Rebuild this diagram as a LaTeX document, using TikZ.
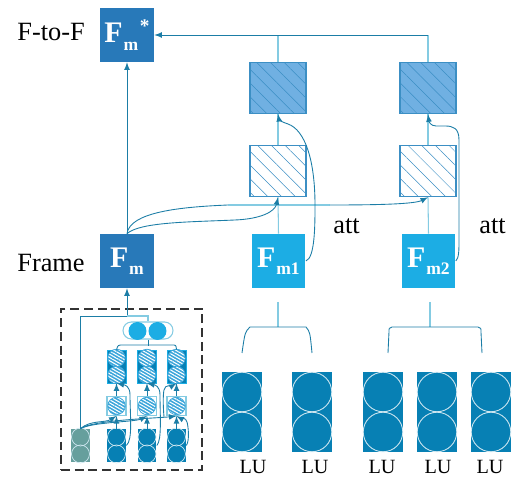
\documentclass[tikz,border=0pt]{standalone}
\usepackage{fontspec}
\setmainfont{Liberation Serif}
\usetikzlibrary{positioning,shapes,arrows,patterns.meta}

\definecolor{framedark}{HTML}{2879B9}
\definecolor{framelight}{HTML}{1CADE4}
\definecolor{hatchfill}{HTML}{70B0E2}
\definecolor{hatchline}{HTML}{3C8FC4}
\definecolor{lublue}{HTML}{0780B4}
\definecolor{tealbox}{HTML}{669F9D}
\definecolor{linkdark}{HTML}{1B7DA6}
\definecolor{linklight}{HTML}{84CBE2}
\definecolor{circlefill}{HTML}{3AA5DA}

\newcommand{\fname}[1]{{\fontsize{17}{17}\selectfont\bfseries F}\kern0.5pt\raisebox{-0.9ex}{\fontsize{10}{10}\selectfont\bfseries #1}}

\tikzset{
  framebox/.style={rectangle, inner sep=0, minimum width=1.08cm, minimum height=1.08cm, text=white},
  hatchbox/.style={rectangle, draw=hatchline, line width=0.6, inner sep=0, minimum width=1.12cm, minimum height=1.03cm,
    pattern={Lines[angle=-45,distance=5.5pt,line width=0.3pt]}, pattern color=hatchline},
  lubox/.style={rectangle, fill=lublue, inner sep=0, minimum width=0.8cm, minimum height=1.6cm},
  lucircle/.style={circle, draw=white!80!lublue, line width=0.5, inner sep=0, minimum size=0.79cm},
  smallbox/.style={rectangle, fill=lublue, inner sep=0, minimum width=0.38cm, minimum height=0.66cm},
  smallcircle/.style={circle, draw=white!80!lublue, line width=0.4, inner sep=0, minimum size=0.36cm},
  stripecircle/.style={circle, inner sep=0, minimum size=0.35cm, draw=circlefill, line width=0.4,
    preaction={fill=circlefill}, pattern={Lines[angle=-30,distance=1.6pt,line width=0.6pt]}, pattern color=white},
  link/.style={line width=0.5, color=linkdark},
  linkpale/.style={line width=0.6, color=linklight},
  lulabel/.style={inner sep=0, font=\fontsize{11.5}{12}\selectfont},
  sidelabel/.style={inner sep=0, font=\fontsize{15}{15}\selectfont}
}

\begin{document}
\begin{tikzpicture}[x=0.02cm, y=-0.02cm]
\useasboundingbox (0,0) rectangle (522,489);

% frame level
\node[framebox, fill=framedark] (fstar) at (127,35) {\fname{m}\kern1pt\raisebox{1.3ex}{\fontsize{11}{11}\selectfont\bfseries *}};
\node[framebox, fill=framedark] (fm) at (127,261) {\fname{m}};
\node[framebox, fill=framelight] (fmone) at (278.5,261) {\fname{m1}};
\node[framebox, fill=framelight] (fmtwo) at (428.5,261) {\fname{m2}};
\node[sidelabel, anchor=west] (ftof) at (17,32) {F-to-F};
\node[sidelabel, anchor=west] (frame) at (17,263) {Frame};
\node[sidelabel, anchor=west] (attone) at (333,226) {att};
\node[sidelabel, anchor=west] (atttwo) at (479,226) {att};

% hatched boxes
\node[hatchbox, preaction={fill=hatchfill}] (darkone) at (278,88) {};
\node[hatchbox, preaction={fill=hatchfill}] (darktwo) at (428,88) {};
\node[hatchbox] (paleone) at (278,171) {};
\node[hatchbox] (paletwo) at (428,171) {};

% LU blocks
\foreach \name/\x/\t in {lua/242/253,lub/312/315,luc/383/382,lud/437/438,lue/491/490}{
  \node[lubox] (\name) at (\x,412) {};
  \node[lucircle] (\name top) at (\x,392) {};
  \node[lucircle] (\name bot) at (\x,432) {};
  \node[lulabel] (\name text) at (\t,467) {LU};
}

% dashed frame
\node[rectangle, draw=black!80, line width=0.8, dash pattern=on 5pt off 2.8pt, inner sep=0,
  minimum width=2.82cm, minimum height=3.22cm] (inset) at (131.5,389.5) {};

% inset
\node[rectangle, rounded corners=4.8pt, draw=linklight, line width=0.6, inner sep=0,
  minimum width=1cm, minimum height=0.34cm] (pill) at (148,330.5) {};
\node[circle, fill=framelight, inner sep=0, minimum size=0.36cm] (pilla) at (137.5,331) {};
\node[circle, fill=framelight, inner sep=0, minimum size=0.36cm] (pillb) at (157.5,331) {};

\node[smallbox, fill=tealbox] (base) at (80.5,445.5) {};
\node[smallcircle] (basetop) at (80.5,437) {};
\node[smallcircle] (basebot) at (80.5,454) {};
\foreach \i/\x in {1/116.5,2/147,3/176.5}{
  \node[smallbox] (low\i) at (\x,445.5) {};
  \node[smallcircle] (low\i top) at (\x,437) {};
  \node[smallcircle] (low\i bot) at (\x,454) {};
  \node[rectangle, draw=linklight, line width=0.6, fill=white, inner sep=0, minimum size=0.38cm] (mid\i) at (\x,406) {};
  \node[stripecircle] (mid\i c) at (\x,406) {};
  \node[smallbox, draw=framelight, line width=0.4] (up\i) at (\x,366.5) {};
  \node[stripecircle] (up\i top) at (\x,358) {};
  \node[stripecircle] (up\i bot) at (\x,375) {};
  \draw[link, -latex] (low\i.north) -- (mid\i.south);
  \draw[link, -latex] (mid\i.north) -- (up\i.south);
}

% inset links
\coordinate (insetbus) at (127,316);
\draw[link, -latex] (insetbus) -- (fm.south);
\draw[link] (insetbus) -| (base.north);
\draw[linkpale] (insetbus) -| (pill.north);
\draw[link] (pill.south) -- ++(0,6);
\draw[link] (up1.north) .. controls (118,345) .. (123,345) -- (172,345) .. controls (176,345) .. (up3.north);
\draw[link, -latex] (base.north) .. controls (90,420) and (105,423) .. (mid1.south);
\draw[link, -latex] (base.north) .. controls (92,422) and (135,422) .. (mid2.south);
\draw[link, -latex] (base.north) .. controls (92,420) and (160,418) .. (mid3.south);
\draw[link, -latex] (low1.east) .. controls (133,440) and (130,415) .. (130,395) .. controls (130,386) and (125,385) .. (up1.south);
\draw[link, -latex] (low2.east) .. controls (162,440) and (160,415) .. (160,395) .. controls (160,386) and (155,385) .. (up2.south);
\draw[link, -latex] (low3.east) .. controls (190,440) and (188,425) .. (187,422) .. controls (186,417) and (180,418) .. (mid3.south);
\draw[link, -latex] (164,417) .. controls (163,405) and (163,395) .. (164,390) .. controls (165,384) and (172,386) .. (up3.south);

% main links
\draw[link, -latex] (fm.north) -- (fstar.south);
\draw[linkpale] (fmone.north) -- (paleone.south);
\draw[linkpale] (fmtwo.north) -- (paletwo.south);
\draw[linkpale] (paleone.north) -- (darkone.south);
\draw[linkpale] (paletwo.north) -- (darktwo.south);
\draw[linkpale] (darktwo.north) -- (darktwo.north |- fstar.east);
\draw[linkpale] (darkone.north) -- (darkone.north |- fstar.east);
\draw[link, -latex] (darktwo.north |- fstar.east) -- (fstar.east);

\coordinate (crossa) at (228,205);
\coordinate (crossb) at (330,205);
\draw[link] (fm.north) .. controls (130,212) and (180,207) .. (crossa);
\draw[linkpale] (crossa) -- (crossb);
\draw[link, -latex] (crossb) .. controls (380,205) and (415,204) .. (paletwo.south);
\draw[link, -latex] (fm.north) .. controls (140,222) and (190,222) .. (235,220) .. controls (260,219) and (275,212) .. (paleone.south);
\draw[link] (fmone.east) .. controls (315,258) and (315,225) .. (315,205);
\draw[link, -latex] (315,205) .. controls (315,160) and (305,130) .. (288,124) .. controls (282,122) and (279,120) .. (darkone.south);
\draw[link, -latex] (fmtwo.east) .. controls (459,258) and (459,250) .. (459,240) -- (459,140) .. controls (459,128) and (453,126) .. (445,126) -- (436,126) .. controls (431,126) and (429,122) .. (darktwo.south);

% LU braces
\coordinate (braceone) at (278,327);
\coordinate (braceonel) at (242,353);
\coordinate (braceoner) at (312,353);
\coordinate (bracetwo) at (430,327);
\coordinate (bracetwol) at (388,353);
\coordinate (bracetwor) at (482,353);
\draw[linkpale, line width=0.8] (braceone |- 0,302) -- (braceone);
\draw[linkpale, line width=0.8] (bracetwo |- 0,302) -- (bracetwo);
\draw[link] (braceonel) .. controls (245,332) .. (250,327) -- (306,327) .. controls (310,332) .. (braceoner);
\draw[link] (bracetwol) -- (389,332) .. controls (389,328) .. (392,327) -- (478,327) .. controls (481,328) .. (481,332) -- (bracetwor);
\end{tikzpicture}
\end{document}
